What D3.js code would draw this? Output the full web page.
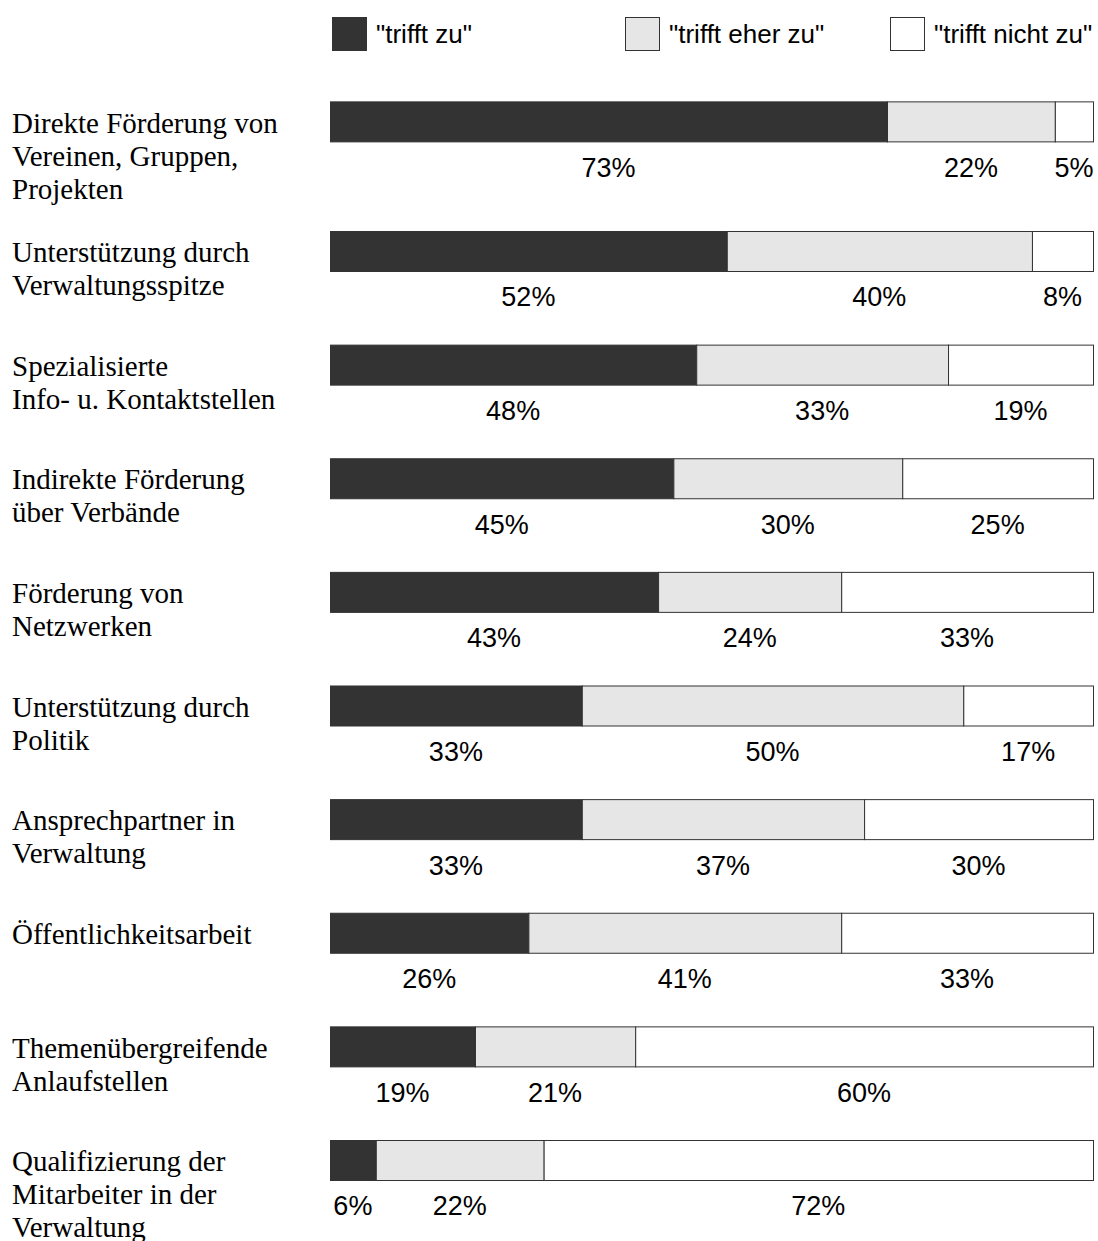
<!DOCTYPE html>
<html>
<head>
<meta charset="utf-8">
<script src="https://cdn.jsdelivr.net/npm/d3@7"></script>
<style>
  html, body { margin: 0; padding: 0; background: #fff; }
  svg { display: block; }
</style>
</head>
<body>
<svg id="chart" width="1098" height="1241"></svg>
<script>
// ---- data ----
const categories = [
  ["Direkte Förderung von", "Vereinen, Gruppen,", "Projekten"],
  ["Unterstützung durch", "Verwaltungsspitze"],
  ["Spezialisierte", "Info- u. Kontaktstellen"],
  ["Indirekte Förderung", "über Verbände"],
  ["Förderung von", "Netzwerken"],
  ["Unterstützung durch", "Politik"],
  ["Ansprechpartner in", "Verwaltung"],
  ["Öffentlichkeitsarbeit"],
  ["Themenübergreifende", "Anlaufstellen"],
  ["Qualifizierung der", "Mitarbeiter in der", "Verwaltung"]
];
const seriesNames = ['"trifft zu"', '"trifft eher zu"', '"trifft nicht zu"'];
const trifftZu     = [73, 52, 48, 45, 43, 33, 33, 26, 19, 6];
const trifftEherZu = [22, 40, 33, 30, 24, 50, 37, 41, 21, 22];
const trifftNicht  = [ 5,  8, 19, 25, 33, 17, 30, 33, 60, 72];
const colors = ["#333333", "#e6e6e6", "#ffffff"];

// ---- build table ----
const rows = categories.map((c, i) => ({
  idx: i, label: c, vals: [trifftZu[i], trifftEherZu[i], trifftNicht[i]]
}));
const stack = d3.stack().keys([0, 1, 2]).value((d, k) => d.vals[k]);
const stacked = stack(rows);

// ---- scales ----
const x = d3.scaleLinear().domain([0, 100]).range([330, 1093]);
const rowScale = d3.scaleLinear().domain([1, 9]).range([231, 1140]);
const extraTop = 16; // first row has a 3-line label
const yRow = i => (i === 0 ? rowScale(0) - extraTop : rowScale(i));
const barH = 40;

const svg = d3.select("#chart");

// ---- legend ----
const legendX = [332, 625, 890];
const legend = svg.append("g").selectAll("g").data(seriesNames).join("g")
  .attr("transform", (d, i) => `translate(${legendX[i]},17)`);
legend.append("rect")
  .attr("x", 0.5).attr("y", 0.5).attr("width", 34).attr("height", 33)
  .attr("fill", (d, i) => colors[i]).attr("stroke", "#333").attr("stroke-width", 1);
legend.append("text")
  .attr("x", 44).attr("y", 17).attr("dy", "0.35em")
  .attr("font-family", "'Liberation Sans', Arial, sans-serif")
  .attr("font-size", 26).attr("fill", "#000")
  .text(d => d);

// ---- bars ----
const layers = svg.append("g").selectAll("g").data(stacked).join("g")
  .attr("fill", (d, i) => colors[i]);
layers.selectAll("rect").data(d => d).join("rect")
  .attr("x", d => x(d[0]) + 0.5)
  .attr("y", d => yRow(d.data.idx) + 0.5)
  .attr("width", d => Math.max(0, x(d[1]) - x(d[0])))
  .attr("height", barH)
  .attr("stroke", "#333").attr("stroke-width", 1);

// ---- percentage labels ----
layers.selectAll("text").data(d => d).join("text")
  .attr("x", d => (x(d[0]) + x(d[1])) / 2)
  .attr("y", d => yRow(d.data.idx) + barH / 2 + 46)
  .attr("dy", "0.35em")
  .attr("text-anchor", "middle")
  .attr("font-family", "'Liberation Sans', Arial, sans-serif")
  .attr("font-size", 27).attr("fill", "#000")
  .text(d => (d[1] - d[0]) + "%");

// ---- category labels ----
const labels = svg.append("g").selectAll("text").data(rows).join("text")
  .attr("font-family", "'Liberation Serif', 'Times New Roman', serif")
  .attr("font-size", 29).attr("fill", "#000")
  .attr("transform", d => `translate(12,${yRow(d.idx) + barH / 2 + 1})`);
labels.selectAll("tspan").data(d => d.label).join("tspan")
  .attr("x", 0).attr("y", (d, i) => i * 33).attr("dy", "0.35em")
  .text(d => d);
</script>
</body>
</html>
